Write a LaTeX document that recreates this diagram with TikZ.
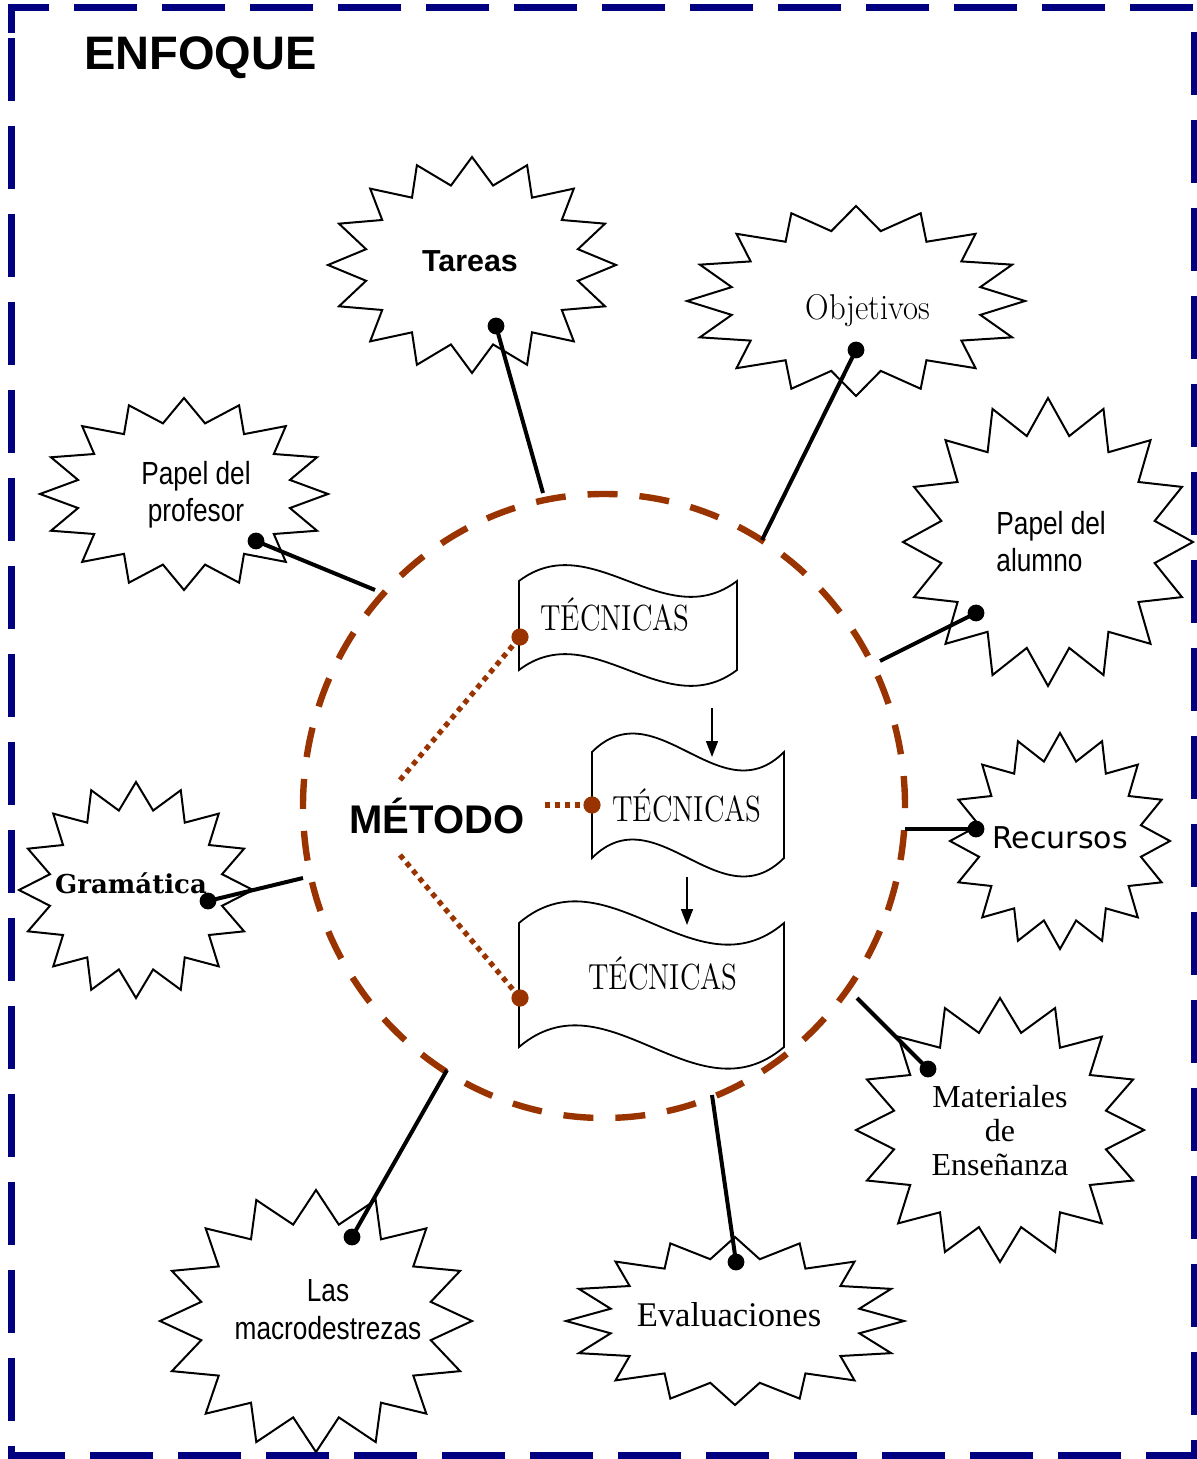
\documentclass[tikz,border=0pt]{standalone}
\usepackage{fontspec}
\usetikzlibrary{arrows.meta,shapes.geometric}
\newfontfamily\arialfont{Liberation Sans}
\newfontfamily\narrowfont[FakeStretch=0.82]{Liberation Sans}
\newfontfamily\verdanafont{DejaVu Sans}
\newfontfamily\bookfont{DejaVu Serif}
\newfontfamily\garafont{Liberation Serif}
\definecolor{framenavy}{RGB}{0,0,128}
\definecolor{rust}{RGB}{153,51,0}

% 16-point starburst: centre (cx,cy), radii (rx,ry)
\newcommand\burst[4]{%
  \draw[burst] plot[variable=\k, samples at={0,...,31}]
    ({#1+#3*(1-0.25*mod(\k,2))*cos(11.25*\k)},{#2+#4*(1-0.25*mod(\k,2))*sin(11.25*\k)}) -- cycle;}
% wavy banner: x-left, x-right, y-top, y-bottom, wave control offset
\newcommand\banner[5]{%
  \draw[bannerbox] (#1,#3)
    .. controls ({#1+(#2-#1)/3},{#3-#5}) and ({#1+2*(#2-#1)/3},{#3+#5}) .. (#2,#3)
    -- (#2,#4)
    .. controls ({#1+2*(#2-#1)/3},{#4+#5}) and ({#1+(#2-#1)/3},{#4-#5}) .. (#1,#4)
    -- cycle;}

\begin{document}
\begin{tikzpicture}[x=0.5pt,y=-0.5pt,
  burst/.style={draw=black, fill=white, line width=1pt, line join=miter},
  bannerbox/.style={draw=black, fill=white, line width=0.9pt},
  framebox/.style={draw=framenavy, line width=3.5pt, dash pattern=on 31.5pt off 12.5pt},
  ring/.style={ellipse, draw=rust, line width=3.2pt, dash pattern=on 15pt off 11pt,
    minimum width=301pt, minimum height=312pt, inner sep=0pt},
  link/.style={line width=2pt},
  linkdot/.style={fill=black},
  dotlink/.style={draw=rust, line width=2.6pt, dash pattern=on 2.6pt off 2.4pt},
  rustdot/.style={fill=rust},
  flow/.style={line width=0.8pt, -{Triangle[length=8pt,width=6pt]}},
  lbl/.style={anchor=base, inner sep=0pt},
  narrowlbl/.style={lbl, font=\narrowfont\fontsize{16}{19}\selectfont},
  seriflbl/.style={lbl, font=\garafont\fontsize{16.5}{19}\selectfont},
  tecn/.style={lbl, font=\fontsize{14.5}{17}\selectfont}]
\useasboundingbox (0,0) rectangle (1197,1459);
\fill[white] (0,0) rectangle (1197,1459);

% outer dashed frame
\draw[framebox] (11,33) -- (11,8) -- (1194,8) -- (1194,1455) -- (11,1455) -- cycle;
\node[lbl, anchor=base west, font=\arialfont\bfseries\fontsize{23.5}{28}\selectfont]
  (enfoque) at (84,70) {ENFOQUE};

% starbursts
\burst{472}{265}{144}{108}
\burst{856}{301}{169}{95}
\burst{184}{494}{144}{96}
\burst{1048}{542}{145}{144}
\burst{1060}{841}{110}{108}
\burst{136}{890}{117}{108}
\burst{1000}{1130}{144}{132}
\burst{735}{1321}{169}{84}
\burst{316}{1321}{156}{131}

% texts of the starbursts
\node[lbl, font=\arialfont\bfseries\fontsize{15.2}{18}\selectfont] (tareas) at (470,272) {Tareas};
\node[lbl, font=\fontsize{16.3}{19}\selectfont] (objetivos) at (868,320) {\scalebox{1}[1.1]{Objetivos}};
\node[narrowlbl] (profA) at (196,485) {Papel del};
\node[narrowlbl] (profB) at (196,522) {profesor};
\node[narrowlbl, anchor=base west] (alumA) at (996,534) {Papel del};
\node[narrowlbl, anchor=base west] (alumB) at (996,571) {alumno};
\node[lbl, font=\verdanafont\fontsize{15}{18}\selectfont] (recursos) at (1060,848) {Recursos};
\node[lbl, font=\bookfont\bfseries\fontsize{13}{16}\selectfont] (gramatica) at (131,893) {Gramática};
\node[seriflbl, font=\garafont\fontsize{16}{19}\selectfont] (matA) at (1000,1107) {Materiales};
\node[seriflbl, font=\garafont\fontsize{16}{19}\selectfont] (matB) at (1000,1141) {de};
\node[seriflbl, font=\garafont\fontsize{16}{19}\selectfont] (matC) at (1000,1175) {Enseñanza};
\node[seriflbl, font=\garafont\fontsize{17.3}{20}\selectfont] (evaluaciones) at (729,1326) {Evaluaciones};
\node[narrowlbl] (macroA) at (328,1301) {Las};
\node[narrowlbl] (macroB) at (328,1339) {macrodestrezas};

% the three technique banners
\banner{519}{737}{581}{670}{55}
\banner{592}{784}{752}{858}{64}
\banner{519}{784}{923}{1047}{75}
\node[tecn] (tec1) at (615,630) {\scalebox{1}[1.25]{TÉCNICAS}};
\node[tecn] (tec2) at (687,821) {\scalebox{1}[1.25]{TÉCNICAS}};
\node[tecn] (tec3) at (663,989) {\scalebox{1}[1.25]{TÉCNICAS}};

% method ring
\node[ring] (ring) at (604,806) {};
\node[lbl, font=\arialfont\bfseries\fontsize{20}{24}\selectfont] (metodo) at (437,833) {MÉTODO};

% method to techniques
\coordinate (mUp) at (400,780);
\coordinate (mMid) at (545,805);
\coordinate (mLow) at (400,855);
\coordinate (t1In) at (520,637);
\coordinate (t2In) at (592,805);
\coordinate (t3In) at (520,998);
\draw[dotlink] (mUp) -- (t1In);
\draw[dotlink] (mMid) -- (t2In);
\draw[dotlink] (mLow) -- (t3In);
\foreach \p in {t1In,t2In,t3In} \fill[rustdot] (\p) circle[radius=4.3pt];

% flow between techniques
\coordinate (f1a) at (712,708);
\coordinate (f1b) at (712,757);
\coordinate (f2a) at (687,877);
\coordinate (f2b) at (687,925);
\draw[flow] (f1a) -- (f1b);
\draw[flow] (f2a) -- (f2b);

% connectors from the ring to each starburst
\coordinate (tareasDot) at (496,326);   \coordinate (tareasRim) at (543,493);
\coordinate (objDot) at (856,350);      \coordinate (objRim) at (762,540);
\coordinate (profDot) at (256,541);     \coordinate (profRim) at (375,590);
\coordinate (alumDot) at (976,613);     \coordinate (alumRim) at (880,661);
\coordinate (recDot) at (976,829);      \coordinate (recRim) at (905,829);
\coordinate (gramDot) at (208,901);     \coordinate (gramRim) at (303,878);
\coordinate (matDot) at (928,1069);     \coordinate (matRim) at (857,998);
\coordinate (evalDot) at (736,1262);    \coordinate (evalRim) at (712,1095);
\coordinate (macroDot) at (352,1237);   \coordinate (macroRim) at (447,1070);
\foreach \a/\b in {tareasDot/tareasRim, objDot/objRim, profDot/profRim,
                   alumDot/alumRim, recDot/recRim, gramDot/gramRim,
                   matDot/matRim, evalDot/evalRim, macroDot/macroRim} {
  \draw[link] (\a) -- (\b);
  \fill[linkdot] (\a) circle[radius=4.2pt];
}
\end{tikzpicture}
\end{document}
